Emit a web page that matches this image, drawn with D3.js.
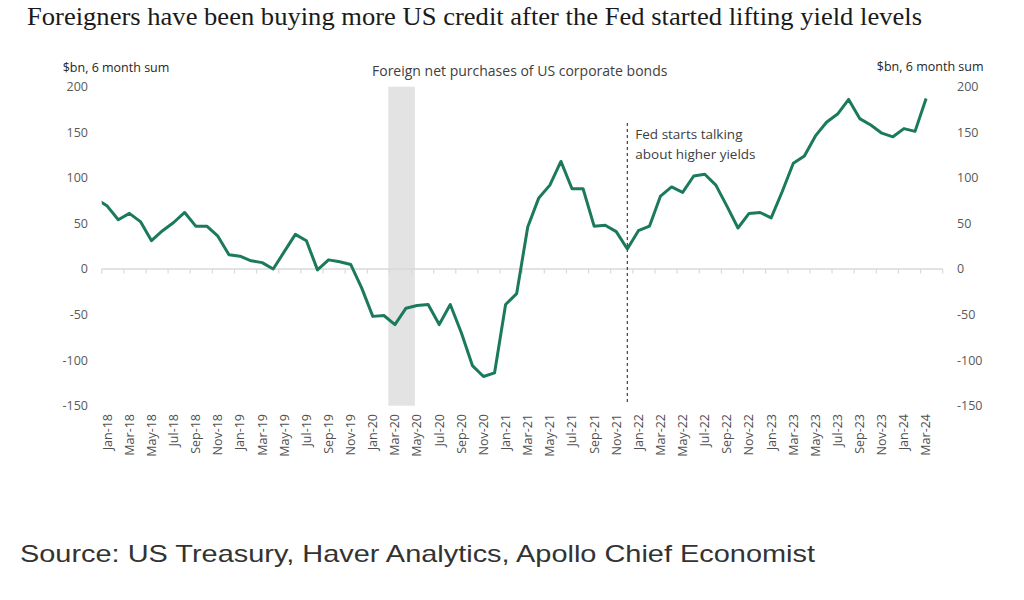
<!DOCTYPE html>
<html>
<head>
<meta charset="utf-8">
<script src="https://cdn.jsdelivr.net/npm/d3@7"></script>
<style>
  html, body { margin: 0; padding: 0; background: #fff; }
  svg { display: block; }
</style>
</head>
<body>
<svg id="chart" width="1024" height="600"></svg>
<script>
// ---------- DATA ----------
// Category months (Dec-17 is only partially visible at the left edge; Apr-24 is an empty slot)
const months = [
  "Dec-17",
  "Jan-18","Feb-18","Mar-18","Apr-18","May-18","Jun-18","Jul-18","Aug-18","Sep-18","Oct-18","Nov-18","Dec-18",
  "Jan-19","Feb-19","Mar-19","Apr-19","May-19","Jun-19","Jul-19","Aug-19","Sep-19","Oct-19","Nov-19","Dec-19",
  "Jan-20","Feb-20","Mar-20","Apr-20","May-20","Jun-20","Jul-20","Aug-20","Sep-20","Oct-20","Nov-20","Dec-20",
  "Jan-21","Feb-21","Mar-21","Apr-21","May-21","Jun-21","Jul-21","Aug-21","Sep-21","Oct-21","Nov-21","Dec-21",
  "Jan-22","Feb-22","Mar-22","Apr-22","May-22","Jun-22","Jul-22","Aug-22","Sep-22","Oct-22","Nov-22","Dec-22",
  "Jan-23","Feb-23","Mar-23","Apr-23","May-23","Jun-23","Jul-23","Aug-23","Sep-23","Oct-23","Nov-23","Dec-23",
  "Jan-24","Feb-24","Mar-24","Apr-24"
];
// Foreign net purchases of US corporate bonds, $bn, 6 month sum (Dec-17 .. Mar-24)
const purchases = [
  77,
  69, 54, 61, 52, 31, 42, 51, 62, 47, 47, 36, 15.5,
  14, 9, 7, 0, 19, 38, 31, -1, 10, 8, 5, -21,
  -52, -51, -61, -43, -40, -39, -61, -39, -70, -106, -118, -114,
  -39, -27, 46, 78, 92, 118, 88, 88, 47, 48, 41, 22,
  42, 47, 80, 90, 84, 102, 104, 92, 69, 45, 61, 62,
  56, 85, 116, 124, 146, 161, 170, 186, 165, 158, 149, 145,
  154, 151, 187
];
// x-axis labels shown (every other month)
const tickLabels = [
  "Jan-18","Mar-18","May-18","Jul-18","Sep-18","Nov-18",
  "Jan-19","Mar-19","May-19","Jul-19","Sep-19","Nov-19",
  "Jan-20","Mar-20","May-20","Jul-20","Sep-20","Nov-20",
  "Jan-21","Mar-21","May-21","Jul-21","Sep-21","Nov-21",
  "Jan-22","Mar-22","May-22","Jul-22","Sep-22","Nov-22",
  "Jan-23","Mar-23","May-23","Jul-23","Sep-23","Nov-23",
  "Jan-24","Mar-24"
];
const yTicks = [-150, -100, -50, 0, 50, 100, 150, 200];
const shadedPeriod = ["Mar-20", "May-20"];
const fedMonth = "Dec-21";

const titleText = "Foreigners have been buying more US credit after the Fed started lifting yield levels";
const chartTitle = "Foreign net purchases of US corporate bonds";
const unitLabel = "$bn, 6 month sum";
const annotation = ["Fed starts talking", "about higher yields"];
const sourceText = "Source: US Treasury, Haver Analytics, Apollo Chief Economist";

// ---------- LAYOUT ----------
const svg = d3.select("#chart");
const plotLeft = 101.7, plotRight = 942.7, plotTop = 86.7, plotBottom = 405.7;
const sans = "'Open Sans', 'Noto Sans', sans-serif";

const idx = new Map(months.map((m, i) => [m, i]));
const x = d3.scaleLinear()
  .domain([idx.get("Jan-18") - 0.5, idx.get("Apr-24") + 0.5])
  .range([plotLeft, plotRight]);
const step = x(1) - x(0);
const y = d3.scaleLinear().domain([-150, 200]).range([plotBottom, plotTop]);

svg.append("defs").append("clipPath").attr("id", "plotclip")
  .append("rect")
  .attr("x", plotLeft).attr("y", 0)
  .attr("width", plotRight - plotLeft).attr("height", 600);

// Title
svg.append("text")
  .attr("x", 27).attr("y", 25)
  .attr("font-family", "'Liberation Serif', 'DejaVu Serif', serif")
  .attr("font-size", 26)
  .attr("fill", "#1a1a1a")
  .attr("textLength", 895)
  .attr("lengthAdjust", "spacingAndGlyphs")
  .text(titleText);

// shaded period
const sx0 = x(idx.get(shadedPeriod[0])) - 0.6 * step;
const sx1 = x(idx.get(shadedPeriod[1])) - 0.2 * step;
svg.append("rect")
  .attr("x", sx0)
  .attr("y", y(200))
  .attr("width", sx1 - sx0)
  .attr("height", y(-150) - y(200))
  .attr("fill", "#e3e3e3");

// zero axis line
svg.append("line")
  .attr("x1", plotLeft).attr("x2", plotRight)
  .attr("y1", y(0)).attr("y2", y(0))
  .attr("stroke", "#d9d9d9").attr("stroke-width", 1.3);

// x tick marks at category boundaries, every 2 categories
const tickPositions = d3.range(idx.get("Jan-18") - 0.5, idx.get("Apr-24") + 0.6, 2);
svg.append("g").selectAll("line").data(tickPositions).join("line")
  .attr("x1", d => x(d)).attr("x2", d => x(d))
  .attr("y1", y(0)).attr("y2", y(0) + 4.5)
  .attr("stroke", "#d9d9d9").attr("stroke-width", 1.2);

// x labels
svg.append("g").selectAll("text").data(tickLabels).join("text")
  .attr("transform", d => `translate(${x(idx.get(d))},414) rotate(-90)`)
  .attr("text-anchor", "end")
  .attr("dy", "0.35em")
  .attr("font-family", sans)
  .attr("font-size", 12.5)
  .attr("fill", "#505050")
  .text(d => d);

// y labels left & right (plain hyphen minus, as in the original)
const fmt = d => String(d);
const yAxisL = d3.axisLeft(y).tickValues(yTicks).tickFormat(fmt).tickSize(0).tickPadding(0);
const gL = svg.append("g").attr("transform", `translate(88,0)`).call(yAxisL);
gL.select(".domain").remove();
gL.selectAll("text").attr("font-family", sans).attr("font-size", 12.5).attr("fill", "#595959");

const yAxisR = d3.axisRight(y).tickValues(yTicks).tickFormat(fmt).tickSize(0).tickPadding(0);
const gR = svg.append("g").attr("transform", `translate(957,0)`).call(yAxisR);
gR.select(".domain").remove();
gR.selectAll("text").attr("font-family", sans).attr("font-size", 12.5).attr("fill", "#595959");

// unit labels
svg.append("text").attr("x", 62.7).attr("y", 71.5)
  .attr("font-family", sans).attr("font-size", 12.5).attr("fill", "#262626")
  .text(unitLabel);
svg.append("text").attr("x", 983.5).attr("y", 70.5).attr("text-anchor", "end")
  .attr("font-family", sans).attr("font-size", 12.5).attr("fill", "#262626")
  .text(unitLabel);

// chart title
svg.append("text").attr("x", 519.7).attr("y", 76).attr("text-anchor", "middle")
  .attr("font-family", sans).attr("font-size", 14).attr("fill", "#404040")
  .text(chartTitle);

// Fed dashed line
const fx = x(idx.get(fedMonth));
svg.append("line")
  .attr("x1", fx).attr("x2", fx)
  .attr("y1", 123).attr("y2", y(-150) - 1)
  .attr("stroke", "#404040").attr("stroke-width", 1.2)
  .attr("stroke-dasharray", "3,3");

const ann = svg.append("text")
  .attr("font-family", sans).attr("font-size", 13.5).attr("fill", "#404040");
annotation.forEach((t, i) => {
  ann.append("tspan").attr("x", fx + 8).attr("y", 138.5 + i * 20).text(t);
});

// line
const line = d3.line()
  .x((d, i) => x(i))
  .y(d => y(d));
svg.append("path")
  .datum(purchases)
  .attr("clip-path", "url(#plotclip)")
  .attr("d", line)
  .attr("fill", "none")
  .attr("stroke", "#1b7a5d")
  .attr("stroke-width", 3)
  .attr("stroke-linejoin", "round");

// source
svg.append("text").attr("x", 20).attr("y", 562)
  .attr("font-family", "'Liberation Sans', Arial, sans-serif")
  .attr("font-size", 24).attr("fill", "#333")
  .attr("textLength", 795)
  .attr("lengthAdjust", "spacingAndGlyphs")
  .text(sourceText);
</script>
</body>
</html>
